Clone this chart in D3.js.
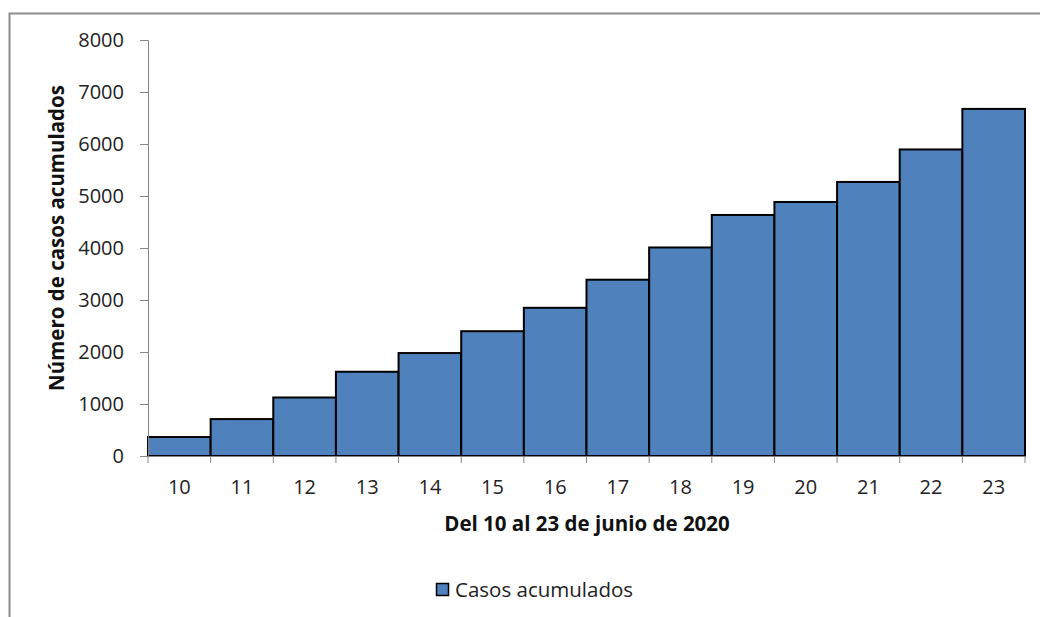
<!DOCTYPE html>
<html><head><meta charset="utf-8">
<script src="https://cdn.jsdelivr.net/npm/d3@7"></script>
<style>body{margin:0;background:#fff}svg{display:block}</style>
</head><body>
<svg id="c" width="1040" height="617"></svg>
<script>
const categories = ["10","11","12","13","14","15","16","17","18","19","20","21","22","23"];
const values = [365, 710, 1125, 1620, 1980, 2400, 2850, 3390, 4010, 4635, 4885, 5270, 5895, 6675];
const yTicks = [0,1000,2000,3000,4000,5000,6000,7000,8000];
const seriesName = "Casos acumulados";
const xTitle = "Del 10 al 23 de junio de 2020";
const yTitle = "Número de casos acumulados";

const svg = d3.select("#c");
const font = "'Open Sans', sans-serif";
// outer border
svg.append("path").attr("d","M9.5,620 V13.5 H1045").attr("fill","none").attr("stroke","#8c8c8c").attr("stroke-width",2);

const x = d3.scaleBand().domain(categories).range([148,1025]).padding(0);
const y = d3.scaleLinear().domain([0,8000]).range([456,40]);

svg.selectAll("rect.bar").data(values).join("rect").attr("class","bar")
  .attr("x",(d,i)=>x(categories[i])).attr("y",d=>y(d))
  .attr("width",x.bandwidth()).attr("height",d=>y(0)-y(d))
  .attr("fill","#4F81BD").attr("stroke","#000").attr("stroke-width",2);

const yAxis = svg.append("g").attr("transform","translate(148,0)")
  .call(d3.axisLeft(y).tickValues(yTicks).tickSize(8).tickPadding(16).tickFormat(d3.format("d")));
yAxis.select(".domain").attr("stroke","#868686");
yAxis.selectAll(".tick line").attr("stroke","#868686");
yAxis.selectAll("text").attr("font-family",font).attr("font-size",20).attr("fill","#222");

const xAxis = svg.append("g").attr("transform","translate(0,456)")
  .call(d3.axisBottom(x).tickSize(0).tickPadding(24));
xAxis.select(".domain").attr("stroke","#868686");
xAxis.selectAll("text").attr("font-family",font).attr("font-size",20).attr("fill","#222");
// boundary ticks between categories
const bounds = categories.map(c=>x(c)).concat([x.range()[1]]);
xAxis.selectAll("line.bt").data(bounds).join("line").attr("class","bt")
  .attr("x1",d=>d).attr("x2",d=>d).attr("y1",0).attr("y2",7).attr("stroke","#868686");

svg.append("text").attr("x",587).attr("y",531).attr("text-anchor","middle")
  .attr("font-family",font).attr("font-size",20.5).attr("font-weight","bold").attr("fill","#111").text(xTitle);
svg.append("text").attr("transform","translate(64,238) rotate(-90)").attr("text-anchor","middle")
  .attr("font-family",font).attr("font-size",20.5).attr("font-weight","bold").attr("fill","#111").text(yTitle);

svg.append("rect").attr("x",436.5).attr("y",583.5).attr("width",12).attr("height",12)
  .attr("fill","#4F81BD").attr("stroke","#000").attr("stroke-width",1.5);
svg.append("text").attr("x",455).attr("y",597).attr("font-family",font).attr("font-size",20.5).attr("fill","#222").text(seriesName);
</script>
</body></html>
